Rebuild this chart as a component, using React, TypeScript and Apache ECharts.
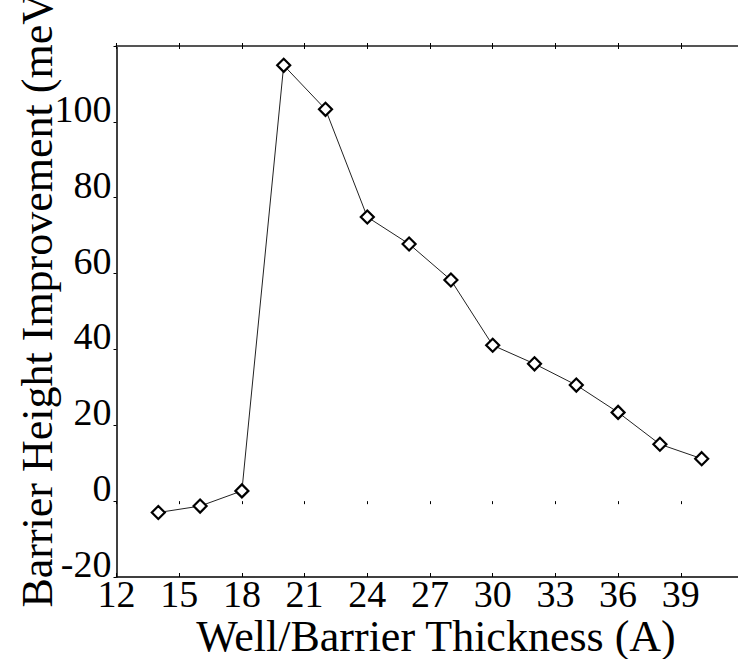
import React, { useEffect, useRef } from "react";
import * as echarts from "echarts";

// Well/barrier thickness (A) and the barrier height improvement (meV) measured at each
const thickness = [14, 16, 18, 20, 22, 24, 26, 28, 30, 32, 34, 36, 38, 40];
const improvement = [-3.0, -1.3, 2.7, 114.9, 103.3, 74.9, 67.8, 58.3, 41.1, 36.2, 30.6, 23.4, 15.0, 11.2];

const xTitle = "Well/Barrier Thickness (A)";
const yTitle = "Barrier Height Improvement (meV)";

const SERIF = "'Liberation Serif', 'DejaVu Serif', serif";

export default function App() {
  const ref = useRef<HTMLDivElement>(null);

  useEffect(() => {
    if (!ref.current) return;
    const chart = echarts.init(ref.current, null, { renderer: "svg" });

    const data = thickness.map((t, i) => [t, improvement[i]]);

    const xBase = {
      type: "value",
      min: 12,
      max: 42,
      interval: 3,
      splitLine: { show: false },
    };

    chart.setOption({
      animation: false,
      backgroundColor: "#fff",
      // the plot runs past the right edge of the page, so the 42 tick is off-canvas
      grid: {
        left: 116.5,
        top: 46,
        width: 627,
        height: 531,
        containLabel: false,
        outerBoundsMode: "none",
      },
      xAxis: [
        {
          ...xBase,
          position: "bottom",
          axisLine: { show: true, onZero: false, lineStyle: { color: "#000", width: 1.5 } },
          axisTick: { show: true, inside: true, length: 4, lineStyle: { color: "#000", width: 1 } },
          axisLabel: {
            show: true,
            fontFamily: SERIF,
            fontSize: 38,
            color: "#000",
            margin: 3,
            lineHeight: 28,
            formatter: (v: number) => (v === 42 ? "" : String(v)),
          },
        },
        {
          // lower half of the crossed ticks on the bottom axis
          ...xBase,
          position: "bottom",
          axisLine: { show: false },
          axisTick: { show: true, inside: false, length: 3, lineStyle: { color: "#000", width: 1 } },
          axisLabel: { show: false },
        },
        {
          ...xBase,
          position: "top",
          axisLine: { show: true, onZero: false, lineStyle: { color: "#555", width: 2 } },
          axisTick: { show: true, inside: true, length: 3, lineStyle: { color: "#000", width: 1 } },
          axisLabel: { show: false },
        },
        {
          ...xBase,
          position: "top",
          axisLine: { show: false },
          axisTick: { show: true, inside: false, length: 3, lineStyle: { color: "#000", width: 1 } },
          axisLabel: { show: false },
        },
      ],
      yAxis: [
        {
          type: "value",
          position: "left",
          min: -20,
          max: 120,
          interval: 20,
          axisLine: { show: true, onZero: false, lineStyle: { color: "#000", width: 1.5 } },
          axisTick: { show: true, inside: false, length: 3, lineStyle: { color: "#000", width: 1 } },
          axisLabel: {
            show: true,
            fontFamily: SERIF,
            fontSize: 38,
            color: "#000",
            margin: 5,
            verticalAlign: "bottom",
            lineHeight: 26,
            formatter: (v: number) => (v === 120 ? "" : String(v)),
          },
          splitLine: { show: false },
        },
      ],
      graphic: [
        {
          type: "text",
          x: 436,
          y: 636,
          style: {
            text: xTitle,
            font: `44px ${SERIF}`,
            lineHeight: 34,
            fill: "#000",
            textAlign: "center",
            textVerticalAlign: "middle",
          },
        },
        {
          type: "text",
          x: 37,
          y: 293,
          rotation: Math.PI / 2,
          style: {
            text: yTitle,
            font: `44px ${SERIF}`,
            lineHeight: 36,
            fill: "#000",
            textAlign: "center",
            textVerticalAlign: "middle",
          },
        },
      ],
      series: [
        {
          type: "line",
          xAxisIndex: 0,
          yAxisIndex: 0,
          data,
          symbol: "diamond",
          symbolSize: 13,
          showAllSymbol: true,
          lineStyle: { color: "#222", width: 1 },
          itemStyle: { color: "#fff", borderColor: "#000", borderWidth: 2.2 },
          emphasis: { disabled: true },
          z: 3,
        },
      ],
    });

    return () => chart.dispose();
  }, []);

  return (
    <div
      ref={ref}
      style={{ position: "fixed", left: 0, top: 0, width: 738, height: 659, background: "#fff" }}
    />
  );
}
